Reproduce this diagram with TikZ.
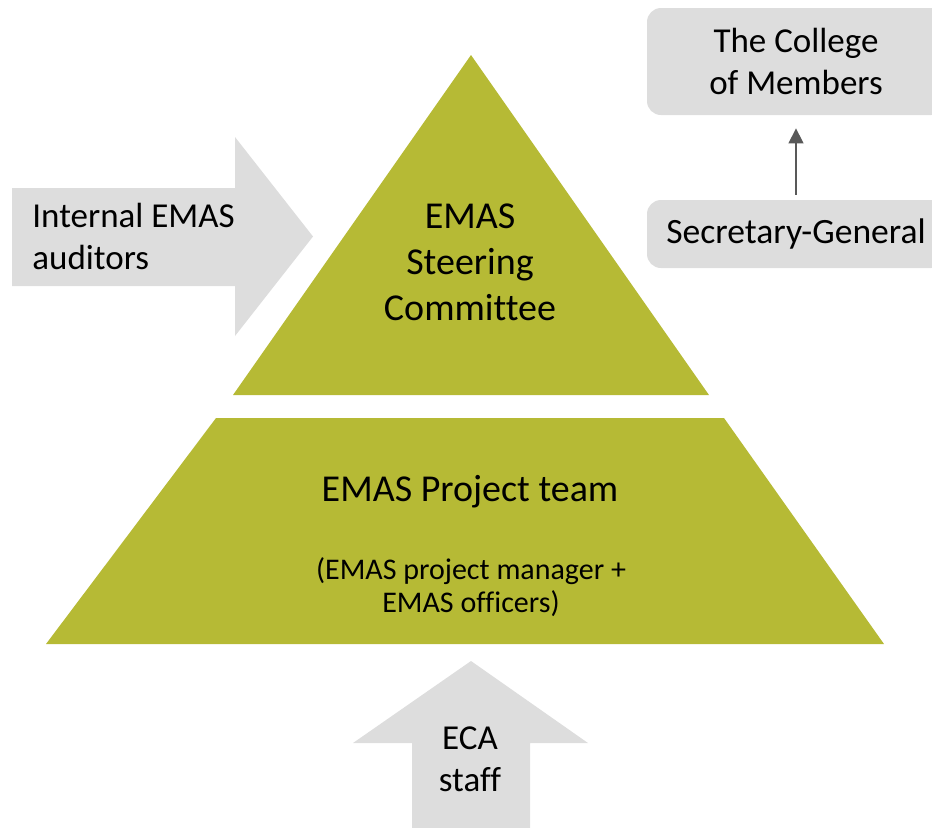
\documentclass[tikz,border=0pt]{standalone}
\usepackage{fontspec}
\setmainfont{Carlito}[Ligatures=NoCommon]
\usetikzlibrary{arrows.meta}
\definecolor{emasgreen}{HTML}{B6BA35}
\definecolor{boxgray}{HTML}{DDDDDD}
\definecolor{arrowgray}{HTML}{595959}
\begin{document}
\begin{tikzpicture}[x=0.5pt,y=-0.5pt,>={Triangle[width=7.5pt,length=7.5pt]},
	big/.style={font=\fontsize{19}{23}\selectfont,align=center},
	side/.style={font=\fontsize{17.5}{21}\selectfont,align=center},
	small/.style={font=\fontsize{15}{16.5}\selectfont,align=center},
	box/.style={fill=boxgray,rounded corners=7pt,minimum width=149pt,minimum height=53.5pt,inner sep=0pt}]
	\useasboundingbox (0,0) rectangle (932,827);
	% pyramid
	\coordinate (apex) at (471,55);
	\fill[emasgreen] (apex)--(709,395)--(233,395)--cycle;
	\fill[emasgreen] (216,418)--(724,418)--(884,644)--(46,644)--cycle;
	% block arrows
	\fill[boxgray] (12,188)--(235,188)--(235,137)--(313,236.5)--(235,336)--(235,286)--(12,286)--cycle;
	\fill[boxgray] (412,840)--(412,743)--(353,743)--(471,661)--(588,743)--(530,743)--(530,840)--cycle;
	% labels
	\node[big] (steer) at (470,262) {EMAS\\Steering\\Committee};
	\node[big] (team) at (470,492) {EMAS Project team};
	\node[small] (officers) at (471,587) {(EMAS project manager +\\EMAS officers)};
	\node[side,align=left,anchor=west,inner sep=0pt] (auditors) at (32,236) {Internal EMAS\\auditors};
	\node[side] (staff) at (470,759) {ECA\\staff};
	% reporting line
	\node[box,side] (college) at (796,61.5) {The College\\of Members};
	\node[box,side,minimum height=34pt,font=\fontsize{17.8}{21}\selectfont] (secgen) at (796,234) {Secretary-General};
	\draw[->,arrowgray,line width=0.7pt,shorten <=2.5pt,shorten >=6.5pt] (secgen.north)--(college.south);
\end{tikzpicture}
\end{document}
